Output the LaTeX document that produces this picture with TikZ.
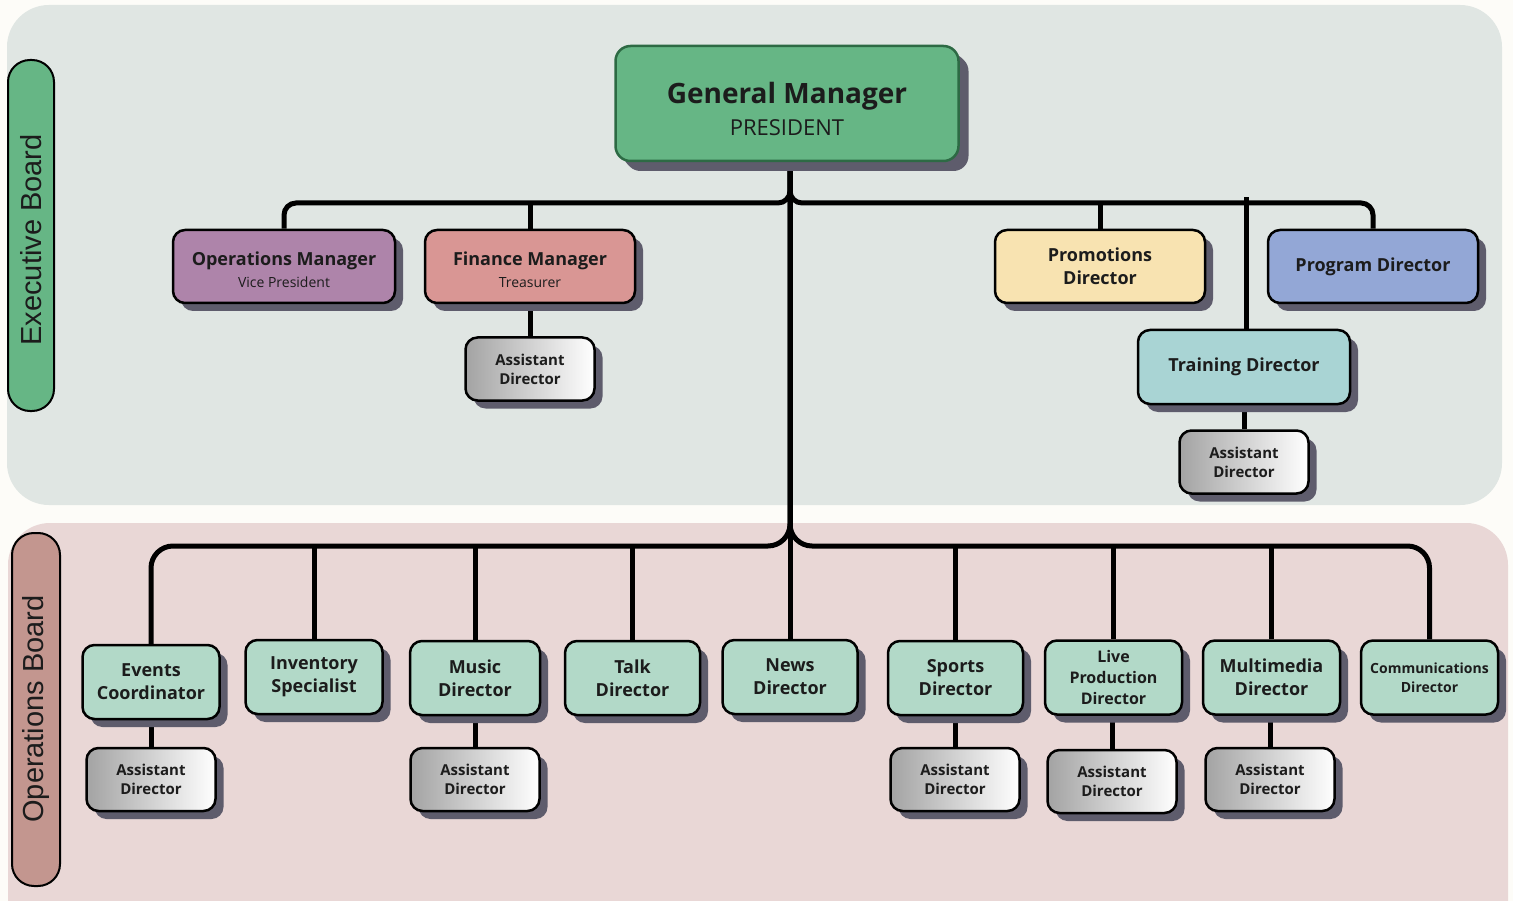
\documentclass[tikz,border=0pt]{standalone}
\usepackage{fontspec}
\setmainfont{Open Sans}
\newfontfamily\sidefont{Liberation Sans}
\usetikzlibrary{shadows,calc}
\definecolor{pagec}{HTML}{FDFCF8}
\definecolor{toppanel}{HTML}{E0E6E3}
\definecolor{botpanel}{HTML}{E9D7D6}
\definecolor{gmgreen}{HTML}{66B685}
\definecolor{gmborder}{HTML}{2D6A44}
\definecolor{opsside}{HTML}{C3968F}
\definecolor{opsc}{HTML}{AE84AA}
\definecolor{finc}{HTML}{D99694}
\definecolor{promc}{HTML}{F8E3B1}
\definecolor{progc}{HTML}{93A7D6}
\definecolor{trainc}{HTML}{A9D4D4}
\definecolor{mint}{HTML}{B2D9C8}
\definecolor{shadc}{HTML}{5E5C6C}
\definecolor{agray}{HTML}{A3A3A3}
\definecolor{txt}{HTML}{1C1C1C}
\pgfdeclarelayer{panel}
\pgfdeclarelayer{bg}
\pgfsetlayers{panel,bg,main}
\tikzset{
  box/.style={draw=black, line width=2.5pt, rounded corners=12pt, align=center, text=txt, inner sep=0pt,
    drop shadow={shadow xshift=8pt, shadow yshift=-8pt, fill=shadc, opacity=1}},
  lvlone/.style={box, minimum width=210pt, minimum height=73pt},
  lvltwo/.style={box, fill=mint, minimum width=137pt, minimum height=74pt, font=\fontsize{18}{23}\selectfont\bfseries},
  asst/.style={box, left color=agray, right color=white, minimum width=129pt, minimum height=63pt, font=\fontsize{15}{19}\selectfont\bfseries},
  conn/.style={line width=5pt, draw=black},
  pill/.style={draw=black, line width=2pt, rounded corners=22pt},
  sidetext/.style={rotate=90, font=\sidefont\fontsize{29}{32}\selectfont, text=txt},
}
\begin{document}
\begin{tikzpicture}[x=1pt,y=-1pt]
\useasboundingbox (0,0) rectangle (1513,901);
\begin{pgfonlayer}{panel}
\fill[pagec] (0,0) rectangle (1513,901);
\fill[toppanel, rounded corners=42pt] (7,5) rectangle (1502,505);
\begin{scope}
\clip (0,0) rectangle (1513,901);
\fill[botpanel, rounded corners=42pt] (8,523) rectangle (1508,960);
\end{scope}
\draw[pill, fill=gmgreen] (8,60) rectangle (54,411);
\draw[pill, fill=opsside] (12,533) rectangle (60,886);
\end{pgfonlayer}
\node[sidetext] (exlabel) at (31,240) {Executive Board};
\node[sidetext] (oplabel) at (36,709) {Operations Board};

% General manager
\node[box, fill=gmgreen, draw=gmborder, minimum width=343pt, minimum height=115pt, rounded corners=15pt,
  drop shadow={shadow xshift=10pt, shadow yshift=-10pt, fill=shadc, opacity=1}] (gm) at (787,103.5)
  {{\fontsize{28}{31}\selectfont\bfseries\rule{0pt}{32pt}General Manager}\\[9pt]{\fontsize{22}{24}\selectfont PRESIDENT}};

% Level one
\node[lvlone, fill=opsc, minimum width=222pt] (ops) at (284,266.5)
  {{\fontsize{18}{21}\selectfont\bfseries\rule{0pt}{20pt}Operations Manager}\\[6pt]{\fontsize{14}{18}\selectfont Vice President}};
\node[lvlone, fill=finc] (fin) at (530,266.5)
  {{\fontsize{18}{21}\selectfont\bfseries\rule{0pt}{20pt}Finance Manager}\\[6pt]{\fontsize{14}{18}\selectfont Treasurer}};
\node[lvlone, fill=promc, font=\fontsize{18}{23}\selectfont\bfseries] (prom) at (1100,266.5) {Promotions\\Director};
\node[lvlone, fill=progc, font=\fontsize{18}{23}\selectfont\bfseries] (prog) at (1373,266.5) {Program Director};
\node[lvlone, fill=trainc, minimum width=212pt, minimum height=74pt, font=\fontsize{18}{23}\selectfont\bfseries] (train) at (1244,367) {Training Director};
\node[asst] (afin) at (530,369) {Assistant\\Director};
\node[asst] (atrain) at (1244,462) {Assistant\\Director};

% Level two
\node[lvltwo] (events) at (151,682) {Events\\Coordinator};
\node[lvltwo] (inv) at (314,677) {Inventory\\Specialist};
\node[lvltwo, minimum width=130pt] (music) at (475,678) {Music\\Director};
\node[lvltwo, minimum width=135pt] (talk) at (632.5,678) {Talk\\Director};
\node[lvltwo, minimum width=135pt] (news) at (790,677) {News\\Director};
\node[lvltwo, minimum width=135pt] (sports) at (955.5,678) {Sports\\Director};
\node[lvltwo, font=\fontsize{16}{21}\selectfont\bfseries] (live) at (1113.5,677.5) {Live\\Production\\Director};
\node[lvltwo] (multi) at (1271.5,677.5) {Multimedia\\Director};
\node[lvltwo, font=\fontsize{14}{19}\selectfont\bfseries] (comms) at (1429.5,677.5) {Communications\\Director};

\node[asst] (aevents) at (151,779.5) {Assistant\\Director};
\node[asst] (amusic) at (475,779.5) {Assistant\\Director};
\node[asst] (asports) at (955,779.5) {Assistant\\Director};
\node[asst] (alive) at (1112,781.5) {Assistant\\Director};
\node[asst] (amulti) at (1270,779.5) {Assistant\\Director};

\coordinate (hubtop) at (790,203);
\coordinate (hubbot) at (790,546);
\coordinate (traintop) at (1246,197);

\begin{pgfonlayer}{bg}
% main stem
\draw[conn] (gm.south -| hubtop) -- (news.north);
% top bus
\draw[conn, rounded corners=12pt] (gm.south -| hubtop) -- (hubtop) -| (ops.north);
\draw[conn, rounded corners=12pt] (gm.south -| hubtop) -- (hubtop) -| (prog.north);
\draw[conn] (fin.north) -- (fin.north |- hubtop);
\draw[conn] (prom.north) -- (prom.north |- hubtop);
\draw[conn] (train.north -| traintop) -- (traintop);
\draw[conn] (afin.north) -- (afin.north |- fin.south);
\draw[conn] (atrain.north) -- (atrain.north |- train.south);
% bottom bus
\draw[conn, rounded corners=22pt] (gm.south -| hubbot) -- (hubbot) -| (events.north);
\draw[conn, rounded corners=22pt] (gm.south -| hubbot) -- (hubbot) -| (comms.north);
\draw[conn] (inv.north) -- (inv.north |- hubbot);
\draw[conn] (music.north) -- (music.north |- hubbot);
\draw[conn] (talk.north) -- (talk.north |- hubbot);
\draw[conn] (sports.north) -- (sports.north |- hubbot);
\draw[conn] (live.north) -- (live.north |- hubbot);
\draw[conn] (multi.north) -- (multi.north |- hubbot);
% assistants
\draw[conn] (aevents.north) -- (aevents.north |- events.south);
\draw[conn] (amusic.north) -- (amusic.north |- music.south);
\draw[conn] (asports.north) -- (asports.north |- sports.south);
\draw[conn] (alive.north) -- (alive.north |- live.south);
\draw[conn] (amulti.north) -- (amulti.north |- multi.south);
\end{pgfonlayer}
\end{tikzpicture}
\end{document}
